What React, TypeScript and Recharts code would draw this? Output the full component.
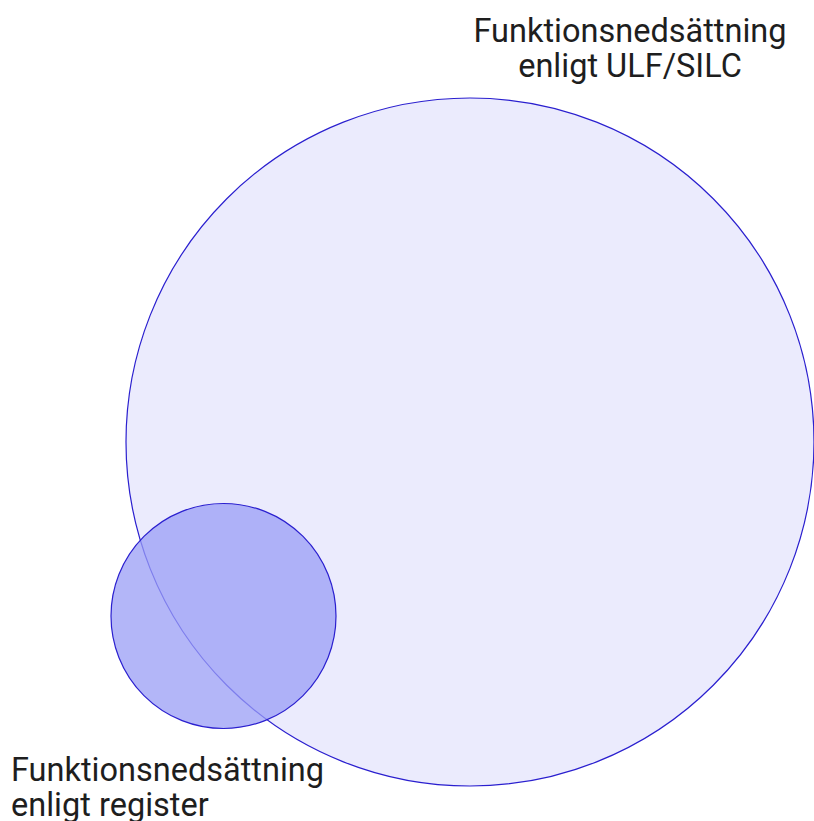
import React from "react";
import { ScatterChart, Scatter, XAxis, YAxis, ZAxis } from "recharts";

// Venn layout (chart units = pixels)
const setNames = ["ULF/SILC", "register"];
const centerX = [470, 223.5];
const centerY = [442, 616];
const radius = [344, 112.5];
const fills = ["#0000e6", "#9a9ef5"];
const fillOpacity = [0.08, 0.75];

const labelLines = [
  ["Funktionsnedsättning", "enligt ULF/SILC"],
  ["Funktionsnedsättning", "enligt register"],
];
const labelX = [630, 11];
const labelY = [41.5, 781];
const labelAnchor = ["middle", "start"];

const W = 814;
const H = 821;

const circleData = setNames.map((name, i) => ({
  name,
  x: centerX[i],
  y: centerY[i],
  z: Math.PI * radius[i] * radius[i],
  fill: fills[i],
  opacity: fillOpacity[i],
}));

const labelData = labelLines.map((lines, i) => ({
  x: labelX[i],
  y: labelY[i],
  lines,
  anchor: labelAnchor[i],
}));

const maxZ = Math.max(...circleData.map((d) => d.z));

const CircleShape = (props: any) => {
  const { cx, cy, size, payload } = props;
  const r = Math.sqrt(size / Math.PI);
  return (
    <circle
      cx={cx}
      cy={cy}
      r={r}
      fill={payload.fill}
      fillOpacity={payload.opacity}
      stroke="#2a1fcf"
      strokeWidth={1.2}
    />
  );
};

const LabelShape = (props: any) => {
  const { cx, cy, payload } = props;
  return (
    <text
      x={cx}
      y={cy}
      textAnchor={payload.anchor}
      fontFamily="Roboto"
      fontSize={32.5}
      fill="#1e1e1e"
    >
      {payload.lines.map((l: string, i: number) => (
        <tspan key={i} x={cx} dy={i === 0 ? 0 : 35}>
          {l}
        </tspan>
      ))}
    </text>
  );
};

const App = () => {
  return (
    <div
      style={{
        position: "fixed",
        top: 0,
        left: 0,
        width: W,
        height: H,
        overflow: "hidden",
        background: "#fff",
      }}
    >
      <ScatterChart width={W} height={H} margin={{ top: 0, right: 0, bottom: 0, left: 0 }}>
        <XAxis type="number" dataKey="x" domain={[0, W]} hide allowDataOverflow />
        <YAxis type="number" dataKey="y" domain={[0, H]} reversed hide allowDataOverflow />
        <ZAxis type="number" dataKey="z" domain={[0, maxZ]} range={[0, maxZ]} />
        <Scatter data={circleData} shape={CircleShape} isAnimationActive={false} />
        <Scatter data={labelData} shape={LabelShape} isAnimationActive={false} />
      </ScatterChart>
    </div>
  );
};

export default App;
